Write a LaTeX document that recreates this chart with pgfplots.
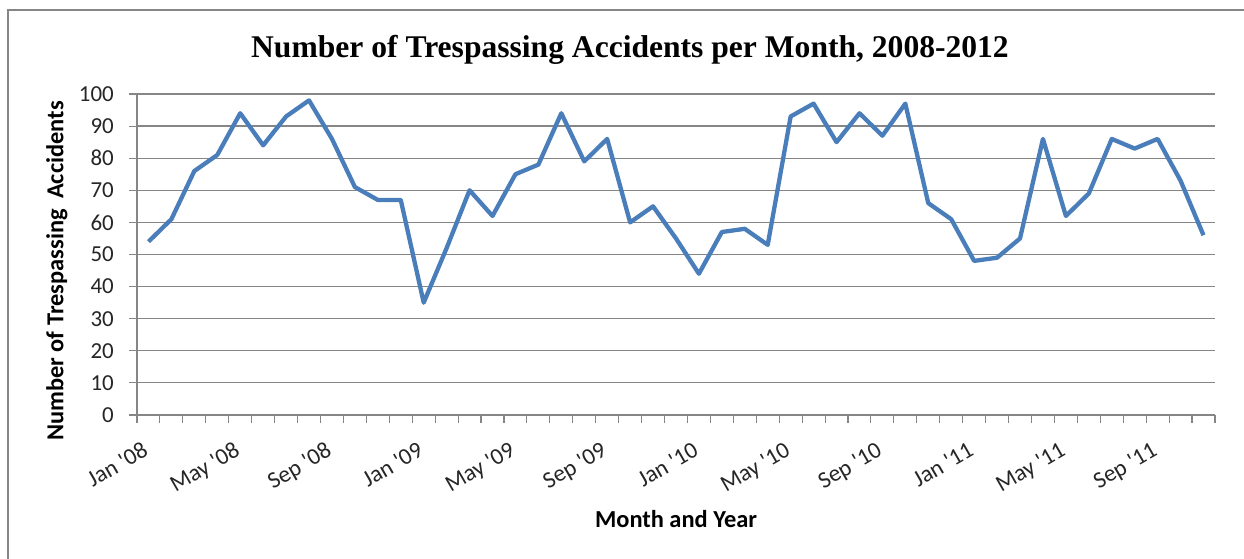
\documentclass[border=0pt]{standalone}
\usepackage{pgfplots}
\pgfplotsset{compat=1.18}
\usepackage{fontspec}
\setmainfont{Carlito}
\newfontfamily\titlefont{Liberation Serif}
\definecolor{linecol}{RGB}{74,126,187}
\definecolor{gridcol}{RGB}{134,134,134}
\definecolor{framecol}{RGB}{134,134,134}
\begin{document}
\begin{tikzpicture}[x=1bp,y=1bp]
\useasboundingbox (0,0) rectangle (1244,559);
\fill[white] (0,0) rectangle (1244,559);
\draw[framecol, line width=2.2bp] (8,-10) -- (8,549) -- (1260,549);
\begin{axis}[
  at={(137bp,144bp)}, anchor=south west,
  width=1078bp, height=321bp, scale only axis,
  xmin=-0.5, xmax=46.5, ymin=0, ymax=100,
  axis x line*=bottom, axis y line*=left,
  axis line style={-, draw=gridcol, line width=1.2bp},
  ytick={0,10,...,100},
  ymajorgrids,
  major grid style={draw=gridcol, line width=1.2bp},
  xtick={0,4,...,44},
  xticklabels={Jan \textquotesingle 08, May \textquotesingle 08, Sep \textquotesingle 08, Jan \textquotesingle 09, May \textquotesingle 09, Sep \textquotesingle 09, Jan \textquotesingle 10, May \textquotesingle 10, Sep \textquotesingle 10, Jan \textquotesingle 11, May \textquotesingle 11, Sep \textquotesingle 11},
  minor xtick={-0.5,0.5,...,46.5},
  tick align=outside,
  major tick length=8bp,
  minor tick length=8bp,
  tick style={draw=gridcol, line width=1.1bp},
  every major x tick/.append style={draw=none},
  /pgf/number format/assume math mode=true,
  yticklabel style={font=\fontsize{23}{26}\selectfont, text=black!85, anchor=east, inner sep=0pt, xshift=-15bp},
  xticklabel style={font=\fontsize{23.5}{27}\selectfont, text=black!85, rotate=30, anchor=north east, inner sep=0pt, yshift=-12bp, xshift=-15bp},
  clip=false,
]
\addplot[linecol, line width=4.3bp, line join=round] coordinates {
(0,54)(1,61)(2,76)(3,81)(4,94)(5,84)(6,93)(7,98)(8,86)(9,71)(10,67)(11,67)
(12,35)(13,52)(14,70)(15,62)(16,75)(17,78)(18,94)(19,79)(20,86)(21,60)(22,65)(23,55)
(24,44)(25,57)(26,58)(27,53)(28,93)(29,97)(30,85)(31,94)(32,87)(33,97)(34,66)(35,61)
(36,48)(37,49)(38,55)(39,86)(40,62)(41,69)(42,86)(43,83)(44,86)(45,73)(46,56)};
\end{axis}
\node[anchor=base, font=\titlefont\bfseries\fontsize{31.7}{36}\selectfont] at (630,501) {Number of Trespassing Accidents per Month, 2008-2012};
\node[anchor=base, font=\bfseries\fontsize{24.5}{28}\selectfont] at (676,31) {Month and Year};
\node[rotate=90, anchor=center, font=\bfseries\fontsize{24.5}{28}\selectfont] at (57,288) {Number of Trespassing\hspace{0.2em} Accidents};
\end{tikzpicture}
\end{document}
